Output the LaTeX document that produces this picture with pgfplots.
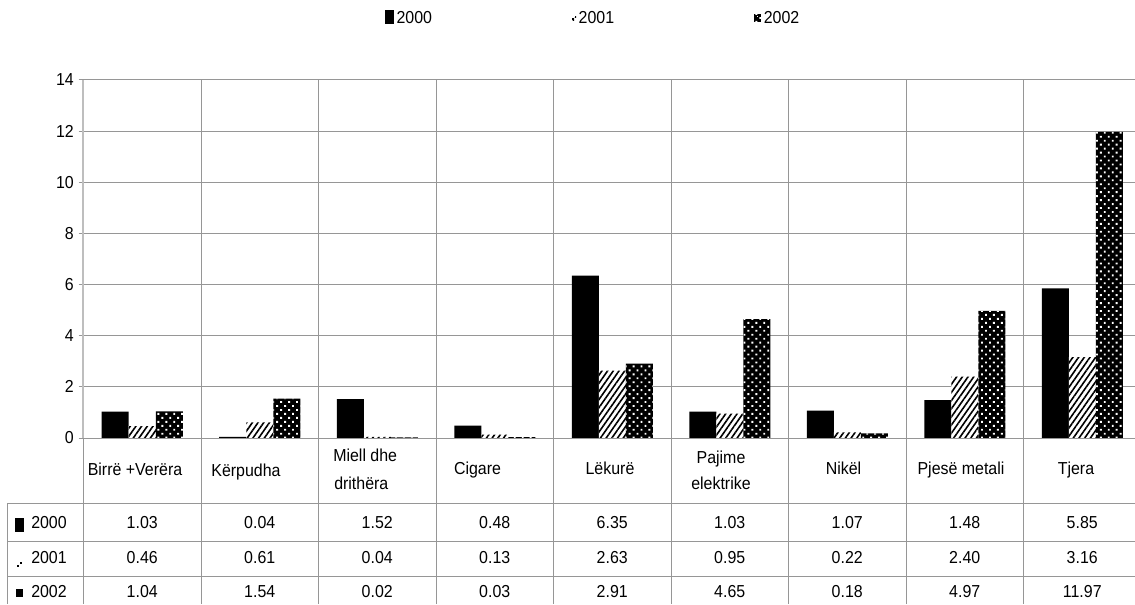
\documentclass[border=0pt]{standalone}
\usepackage{fontspec}
\setmainfont{Liberation Sans}[FakeStretch=0.92]
\usepackage{pgfplots}
\pgfplotsset{compat=1.18}
\usepackage{pgfplotstable}
\usetikzlibrary{patterns.meta}

\definecolor{gridgray}{RGB}{150,150,150}
\definecolor{spinegray}{RGB}{190,190,190}

\pgfplotstableread{
x   y2000 y2001 y2002
0.5 1.03  0.46  1.04
1.5 0.04  0.61  1.54
2.5 1.52  0.04  0.02
3.5 0.48  0.13  0.03
4.5 6.35  2.63  2.91
5.5 1.03  0.95  4.65
6.5 1.07  0.22  0.18
7.5 1.48  2.40  4.97
8.5 5.85  3.16  11.97
}\datatable

\tikzset{
  s2000/.style={fill=black, draw=none},
  s2001/.style={draw=none, fill=white, postaction={pattern={Lines[angle=55,distance=3.5pt,line width=1.2pt]}, pattern color=black}},
  s2002/.style={draw=none, fill=black, postaction={pattern={Dots[angle=45,distance=4.2pt,radius=1pt]}, pattern color=white}},
}

\begin{document}
\begin{tikzpicture}[font=\fontsize{13}{15}\selectfont]
\begin{axis}[
  at={(0,0)}, anchor=south west,
  scale only axis, width=793.125pt, height=268.5pt,
  xmin=0, xmax=9, ymin=0, ymax=14,
  ytick={0,2,...,14}, xtick=\empty,
  ymajorgrids, grid style={gridgray, line width=0.75pt},
  axis line style={draw=none},
  ytick pos=left, tick align=outside, major tick length=3.75pt,
  every tick/.style={gridgray, line width=0.75pt},
  /pgf/number format/assume math mode=true,
  yticklabel style={font=\fontsize{13}{15}\selectfont},
  ybar=0pt, bar width=20.25pt,
  clip=false,
  legend columns=3,
  legend style={draw=none, fill=none, at={(0.281,1.171)}, anchor=west,
    font=\fontsize{13}{15}\selectfont,
    /tikz/every even column/.append style={column sep=103pt}},
]
\addplot[s2000, legend image code/.code={\fill[black] (0pt,-4pt) rectangle (6.75pt,6.75pt);}]
  table[x=x,y=y2000]{\datatable};
\addlegendentry{2000}
\addplot[s2001, legend image code/.code={\fill[black] (1pt,-1pt) rectangle (2.5pt,0.5pt); \fill[black] (3pt,1pt) rectangle (4pt,2pt);}]
  table[x=x,y=y2001]{\datatable};
\addlegendentry{2001}
\addplot[s2002, legend image code/.code={\fill[black] (0pt,-2.5pt) rectangle (5.25pt,3.5pt); \fill[white] (2pt,1pt) rectangle (3.2pt,2.2pt);}]
  table[x=x,y=y2002]{\datatable};
\addlegendentry{2002}
\end{axis}

\begin{scope}[x=0.75pt, y=-0.75pt, shift={(-62.625pt,328.5pt)}]
  % column separators through plot and table
  \foreach \k in {1,...,8}
    \draw[gridgray, line width=0.75pt] ({83.5+117.5*\k},80) -- ({83.5+117.5*\k},604);
  \draw[spinegray, line width=1.5pt] (83.5,80) -- (83.5,438);
  \draw[gridgray, line width=0.75pt] (83.5,438) -- (83.5,604);
  \draw[gridgray, line width=0.75pt] (83.5,438) -- (1135,438);
  % table rows
  \foreach \yy in {503,541,576}
    \draw[gridgray, line width=0.75pt] (8,\yy) -- (1135,\yy);
  \draw[gridgray, line width=0.75pt] (8,503) -- (8,604);
  % category labels
  \node[anchor=base] at (135,475) {Birrë +Verëra};
  \node[anchor=base] at (246,476) {Kërpudha};
  \node[anchor=base west, inner sep=0pt] at (333,461) {Miell dhe};
  \node[anchor=base west, inner sep=0pt] at (334,489) {drithëra};
  \node[anchor=base] at (477.5,474) {Cigare};
  \node[anchor=base] at (610,474) {Lëkurë};
  \node[anchor=base] at (721,463) {Pajime};
  \node[anchor=base] at (721,489) {elektrike};
  \node[anchor=base] at (843.5,474) {Nikël};
  \node[anchor=base] at (961,474) {Pjesë metali};
  \node[anchor=base] at (1076,474) {Tjera};
  % table row headers
  \fill[black] (15,518) rectangle (24,532);
  \node[anchor=base east, inner sep=0pt] at (67,528.5) {2000};
  \fill[black] (17,565) rectangle (19,567);
  \fill[black] (20,562) rectangle (22,564);
  \node[anchor=base east, inner sep=0pt] at (67,563.5) {2001};
  \fill[black] (16,589) rectangle (23,597);
  \node[anchor=base east, inner sep=0pt] at (67,597.5) {2002};
  % table values
  \foreach \v [count=\i from 0] in {1.03,0.04,1.52,0.48,6.35,1.03,1.07,1.48,5.85}
    \node[anchor=base] at ({142.25+117.5*\i},528.5) {\v};
  \foreach \v [count=\i from 0] in {0.46,0.61,0.04,0.13,2.63,0.95,0.22,2.40,3.16}
    \node[anchor=base] at ({142.25+117.5*\i},563.5) {\v};
  \foreach \v [count=\i from 0] in {1.04,1.54,0.02,0.03,2.91,4.65,0.18,4.97,11.97}
    \node[anchor=base] at ({142.25+117.5*\i},597.5) {\v};
  \pgfresetboundingbox
  \path[use as bounding box] (0,0) rectangle (1135,604);
\end{scope}
\end{tikzpicture}
\end{document}
